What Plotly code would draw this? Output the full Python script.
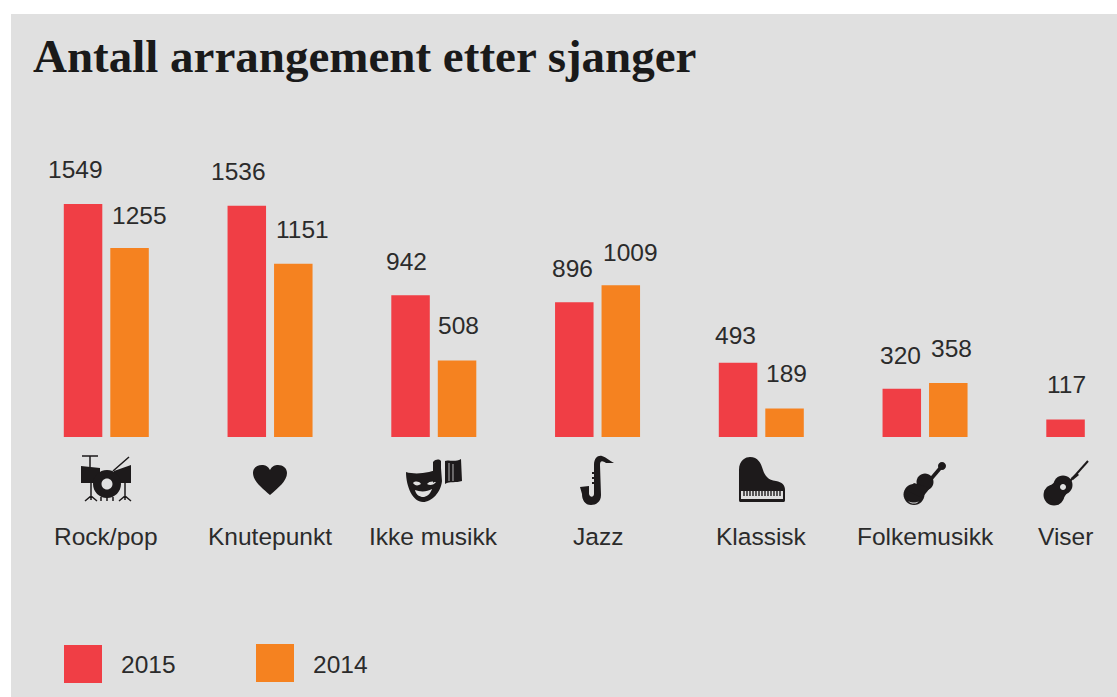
import re
import plotly.graph_objects as go

categories = ["Rock/pop", "Knutepunkt", "Ikke musikk", "Jazz", "Klassisk", "Folkemusikk", "Viser"]
values_2015 = [1549, 1536, 942, 896, 493, 320, 117]
values_2014 = [1255, 1151, 508, 1009, 189, 358, None]
title_text = "Antall arrangement etter sjanger"
series_names = ["2015", "2014"]

W, H = 1117, 697
RED, ORANGE, BG, INK, TXT = "#f03e45", "#f58220", "#e0e0e0", "#1d1a1b", "#2b2b2b"
FONT = "Liberation Sans"
LABEL_SIZE = 24.5

# label nudges relative to the group centre and the bar top (px)
dx_2015 = [-31, -32, -27, -25, -26, -25, -22]
dx_2014 = [33, 32, 25, 33, 25, 26, 0]
dy_2015 = [34, 34, 34, 34, 27, 33, 35]
dy_2014 = [33, 34, 35, 33, 35, 35, 0]


def px(x):
    return x / W


def py(y):
    return 1 - y / H


def conv(path):
    tokens = re.findall(r"[MLCQZ]|-?\d+\.?\d*", path)
    out, is_x = [], True
    for t in tokens:
        if t in "MLCQZ":
            out.append(t)
            is_x = True
        else:
            out.append(f"{px(float(t)):.5f}," if is_x else f"{py(float(t)):.5f}")
            is_x = not is_x
    return " ".join(out).replace(", ", ",")


def circle(cx, cy, r):
    k = 0.5523 * r
    return (f"M{cx - r} {cy} C{cx - r} {cy - k} {cx - k} {cy - r} {cx} {cy - r} "
            f"C{cx + k} {cy - r} {cx + r} {cy - k} {cx + r} {cy} "
            f"C{cx + r} {cy + k} {cx + k} {cy + r} {cx} {cy + r} "
            f"C{cx - k} {cy + r} {cx - r} {cy + k} {cx - r} {cy} Z ")


def solid(path, fill=INK):
    return dict(type="path", xref="paper", yref="paper", path=conv(path), fillcolor=fill,
                line=dict(width=0), fillrule="evenodd", layer="above")


def stroke(path, w=1.5, color=INK):
    return dict(type="path", xref="paper", yref="paper", path=conv(path),
                line=dict(color=color, width=w), layer="above")


shapes = [
    dict(type="rect", xref="paper", yref="paper", x0=px(11), x1=1, y0=0, y1=py(14),
         fillcolor=BG, line=dict(width=0), layer="below"),
    # legend swatches
    dict(type="rect", xref="paper", yref="paper", x0=px(64), x1=px(102), y0=py(683), y1=py(645),
         fillcolor=RED, line=dict(width=0)),
    dict(type="rect", xref="paper", yref="paper", x0=px(256), x1=px(294), y0=py(682), y1=py(644),
         fillcolor=ORANGE, line=dict(width=0)),
]

# drum kit
shapes += [
    solid("M81 466 L100 468 L100 483 L81 483 Z"),
    solid("M114 471 L131 465 L131 483 L114 483 Z"),
    solid(circle(107, 484, 14) + circle(107, 484, 5.5)),
    stroke("M82 456 L98 456 M90 456 L90 467 M113 471 L129 457", 1.5),
    stroke("M91 483 L91 500 M85 501 L91 496 L97 501 M125 483 L125 500 M119 501 L125 496 L131 501 "
           "M101 497 L101 501 M107 497 L107 501 M113 497 L113 501", 1.5),
]
# heart
shapes.append(solid("M270 495 C262 488 253 481 253 473 C253 468 257 465 262 465 C265 465 268 466 270 470 "
                    "C272 466 275 465 278 465 C283 465 287 468 287 473 C287 481 278 488 270 495 Z"))
# mask and book
shapes += [
    solid("M406 472 C416 475 430 473 441 468 L442 481 C441 492 432 502 423 502 C413 502 406 487 406 472 Z "
          "M413 483 C415 481 419 481 421 484 C418 486 415 486 413 483 Z "
          "M427 484 C429 481 433 481 436 482 C434 485 430 486 427 484 Z "
          "M415 490 C420 492 427 492 432 489 C430 495 426 497 423 497 C420 497 416 495 415 490 Z"),
    solid("M433 462 C436 459 439 459 441 461 L441 483 C438 481 435 481 433 483 Z"),
    solid("M445 461 C448 459 454 463 461 459 L462 481 C456 483 450 481 445 484 Z"),
    stroke("M449 463 L449 481 M453 464 L453 481", 0.8, BG),
]
# saxophone
shapes += [
    solid("M594 465 C594 458 598 455 602 456 C606 457 610 461 614 463 L606 463 C603 461 600 460 600 465 "
          "L601 495 C601 502 596 505 591 505 C585 505 582 500 582 494 L580 487 L589 486 L589 494 "
          "C590 498 594 497 594 494 Z"),
    stroke("M592 473 L594 473 M592 478 L594 478 M592 483 L594 483", 2),
]
# piano
shapes += [
    solid("M739 470 C739 460 746 457 750 457 C758 457 761 463 763 470 C765 476 768 480 776 481 "
          "C782 482 785 485 785 490 L785 500 C785 502 784 502 783 502 L741 502 C740 502 739 502 739 500 Z "
          "M741 491 L783 491 L783 499 L741 499 Z"),
    stroke(" ".join(f"M{x} 491 L{x} 496" for x in range(744, 782, 3)), 1.4),
]
# violin
shapes += [
    solid(circle(942, 466, 4)),
    stroke("M942 466 L925 486", 3.5),
    solid(circle(925, 482, 8.5)),
    solid(circle(914, 494.5, 10.5)),
    solid("M914 483 L930 488 L922 498 L906 490 Z"),
    solid("M908 501 C912 503 916 503 919 501 L917 503 C914 504 911 504 908 501 Z", BG),
]
# guitar
shapes += [
    stroke("M1088 461 L1063 489", 2),
    solid("M1071 478 L1077 473 L1079 475 L1073 480 Z"),
    solid(circle(1063, 485, 9.5)),
    solid(circle(1054, 495, 10.5)),
    solid("M1056 481 L1068 492 L1058 505 L1044 491 Z"),
    solid(circle(1063, 487, 3), BG),
]

label_font = dict(family=FONT, size=LABEL_SIZE, color=TXT)
annotations = [
    dict(xref="paper", yref="paper", x=px(31), y=py(56), xanchor="left", yanchor="middle",
         text=f"<b>{title_text}</b>", showarrow=False,
         font=dict(family="Liberation Serif", size=47, color="#1a1a1a")),
]
for cat, v, dx, dy in zip(categories, values_2015, dx_2015, dy_2015):
    annotations.append(dict(x=cat, y=v, xshift=dx, yshift=dy, text=str(v), showarrow=False,
                            xanchor="center", yanchor="middle", font=label_font))
for cat, v, dx, dy in zip(categories, values_2014, dx_2014, dy_2014):
    if v is not None:
        annotations.append(dict(x=cat, y=v, xshift=dx, yshift=dy, text=str(v), showarrow=False,
                                xanchor="center", yanchor="middle", font=label_font))
for i, cat in enumerate(categories):
    annotations.append(dict(x=cat, y=py(536), yref="paper", xshift=-23 if i == 6 else 0, text=cat,
                            showarrow=False, xanchor="center", yanchor="middle", font=label_font))
annotations.append(dict(xref="paper", yref="paper", x=px(118.5), y=py(664), xanchor="left", yanchor="middle",
                        text=series_names[0], showarrow=False, font=label_font))
annotations.append(dict(xref="paper", yref="paper", x=px(310.5), y=py(664), xanchor="left", yanchor="middle",
                        text=series_names[1], showarrow=False, font=label_font))

fig = go.Figure()
fig.add_bar(x=categories, y=values_2015, name=series_names[0], marker=dict(color=RED, line=dict(width=0)))
fig.add_bar(x=categories, y=values_2014, name=series_names[1], marker=dict(color=ORANGE, line=dict(width=0)))

SPACING, FIRST, BASE, SCALE = 163.75, 106.3, 437, 0.1505
fig.update_layout(
    width=W, height=H, margin=dict(l=0, r=0, t=0, b=0), autosize=False,
    paper_bgcolor="white", plot_bgcolor="rgba(0,0,0,0)", showlegend=False,
    barmode="group", bargap=1 - 93 / SPACING, bargroupgap=0.172,
    shapes=shapes, annotations=annotations,
    xaxis=dict(visible=False, type="category", categoryorder="array", categoryarray=categories,
               range=[-FIRST / SPACING, (W - FIRST) / SPACING]),
    yaxis=dict(visible=False, range=[-(H - BASE) / SCALE, BASE / SCALE]),
)
fig.write_html("out.html", config={"displayModeBar": False},
               post_script="document.body.style.margin='0';document.body.style.overflow='hidden';")
